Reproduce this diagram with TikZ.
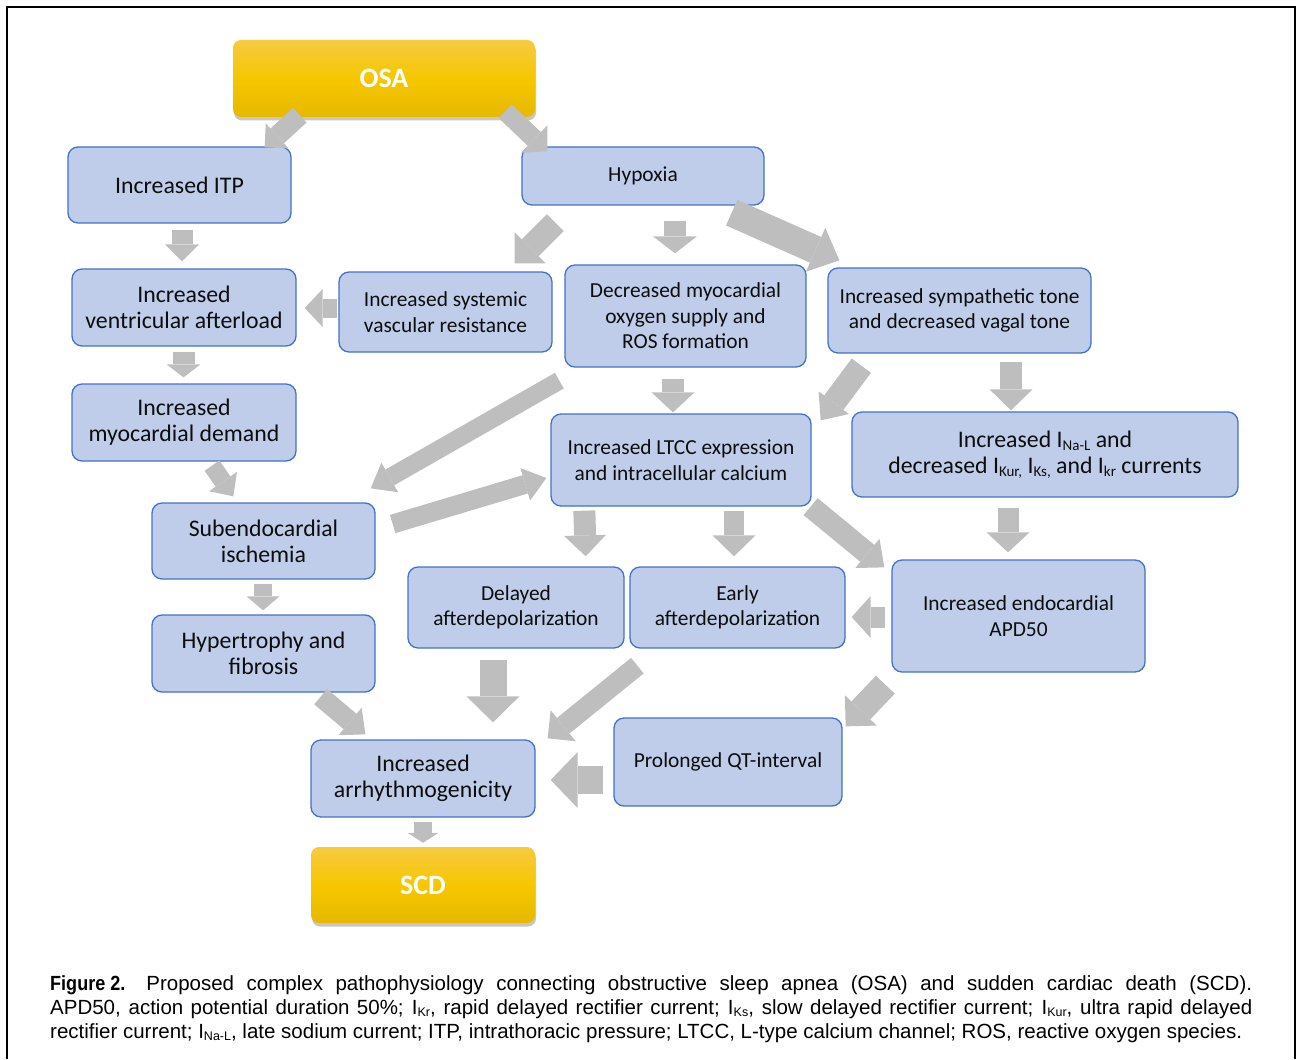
\documentclass[tikz,border=0pt]{standalone}
\usepackage{graphicx}
\usepackage{fontspec}
\setmainfont{Carlito}
\newfontfamily\capfont{Liberation Sans}
\usetikzlibrary{arrows.meta,shadows}

\definecolor{boxblue}{RGB}{191,205,234}
\definecolor{boxline}{RGB}{68,114,196}
\definecolor{arrowgray}{RGB}{190,190,190}
\definecolor{textdark}{RGB}{13,13,13}
\definecolor{goldtop}{RGB}{246,202,66}
\definecolor{goldmid}{RGB}{246,199,0}
\definecolor{goldbot}{RGB}{230,184,0}

% small lowered index, as in I_Kr
\newcommand{\isub}[1]{\raisebox{-0.15em}{\fontsize{15}{15}\selectfont #1}}
\newcommand{\csub}[1]{\raisebox{-0.1em}{\fontsize{12.5}{12.5}\selectfont #1}}

\tikzset{
  box/.style={draw=boxline, line width=1.3pt, fill=boxblue, rounded corners=10pt,
    align=center, text=textdark, inner sep=2pt},
  big/.style={font=\fontsize{23.8}{26}\selectfont},
  small/.style={font=\fontsize{21.4}{25.5}\selectfont},
  sz/.style 2 args={minimum width=#1pt, minimum height=#2pt},
  goldbox/.style={rounded corners=8pt,
    drop shadow={shadow xshift=1pt, shadow yshift=-3.5pt, fill=black, opacity=0.22},
    top color=goldtop, bottom color=goldbot, middle color=goldmid,
    text=white, font=\bfseries\fontsize{28}{30}\selectfont},
  blk/.style args={#1/#2/#3}{draw=arrowgray, line width=#1pt,
    -{Triangle[width=#2pt, length=#3pt, line width=0pt]}}
}

\begin{document}
\begin{tikzpicture}[x=1pt, y=-1pt]
\useasboundingbox (0,0) rectangle (1297,1059);

% frame
                \draw [line width=2.4pt] (7,1059) -- (7,7) -- (1295,7) -- (1295,1059);
                %
                % top and bottom
                \node at (384,78.5) (osa) [goldbox, sz={302}{77}] {OSA};
                \node at (423,885) (scd) [goldbox, sz={224}{76}] {SCD};
                %
                % left column
                \node at (179.5,185) (itp) [box, big, sz={223}{76}] {Increased ITP};
                \node at (184,307.5) (aft) [box, big, sz={224}{77}] {Increased\\ventricular afterload};
                \node at (184,422.5) (dem) [box, big, sz={224}{77}] {Increased\\myocardial demand};
                \node at (263.5,541) (sub) [box, big, sz={223}{76}] {Subendocardial\\ischemia};
                \node at (263.5,653.5) (hyf) [box, big, sz={223}{77}] {Hypertrophy and\\fibrosis};
                \node at (423,778.5) (arr) [box, big, sz={224}{77}] {Increased\\arrhythmogenicity};
                %
                % hypoxia branch
                \node at (643,176) (hyp) [box, small, sz={242}{58}] {Hypoxia};
                \node at (445.5,312) (svr) [box, small, sz={213}{80}] {Increased systemic\\vascular resistance};
                \node at (685.5,316) (dmo) [box, small, sz={241}{102}] {Decreased myocardial\\oxygen supply and\\ROS formation};
                \node at (959.5,310.5) (sym) [box, small, sz={263}{85}] {Increased sympathetic tone\\and decreased vagal tone};
                \node at (681,460) (ltcc) [box, small, sz={260}{92}] {Increased LTCC expression\\and intracellular calcium};
                \node at (1045,454.5) (cur) [box, big, sz={386}{85}] {Increased I\isub{Na-L} and\\decreased I\isub{Kur,} I\isub{Ks,} and I\isub{kr} currents};
                \node at (516,607.5) (dad) [box, small, sz={216}{81}] {Delayed\\afterdepolarization};
                \node at (737.5,607.5) (ead) [box, small, sz={215}{81}] {Early\\afterdepolarization};
                \node at (1018.5,616) (apd) [box, small, sz={253}{112}] {Increased endocardial\\APD50};
                \node at (728,762) (qt) [box, small, sz={228}{88}] {Prolonged QT-interval};
                %
                % arrows from OSA
                \draw [blk=20/34/17] ([shift={(67,-2)}]osa.south west) -- ([shift={(-27,1)}]itp.north east);
                \draw [blk=19/38/18] ([shift={(-30,-6)}]osa.south east) -- ([shift={(26,5)}]hyp.north west);
                %
                % left chain
                \draw [blk=21/34/17] ([shift={(2.5,6)}]itp.south) -- ([shift={(-2,-7)}]aft.north);
                \draw [blk=22/34/13] ([shift={(-0.5,5)}]aft.south) -- ([shift={(-0.5,-6)}]dem.north);
                \draw [blk=18/34/18] ([shift={(28,4)}]dem.south) -- ([shift={(82,-6)}]sub.north west);
                \draw [blk=18/33/14] ([shift={(-0.5,4)}]sub.south) -- ([shift={(-0.5,-4)}]hyf.north);
                \draw [blk=20/36/20] ([shift={(-55,4)}]hyf.south east) -- ([shift={(55,-5)}]arr.north west);
                \draw [blk=18/31/10] ([shift={(0,4)}]arr.south) -- ([shift={(0,-4)}]scd.north);
                %
                % from hypoxia
                \draw [blk=24/44/22] ([shift={(34,17)}]hyp.south west) -- ([shift={(-38,-8)}]svr.north east);
                \draw [blk=22/44/17] ([shift={(32,15)}]hyp.south) -- ([shift={(-10.5,-11)}]dmo.north);
                \draw [blk=28/48/26] ([shift={(-33,7)}]hyp.south east) -- ([shift={(12,-7)}]sym.north west);
                \draw [blk=19/38/18] ([shift={(-1,-4)}]svr.west) -- ([shift={(8,0.5)}]aft.east);
                %
                % middle row
                \draw [blk=22/43/20] ([shift={(-12.5,11)}]dmo.south) -- ([shift={(-8,-1)}]ltcc.north);
                \draw [blk=18/34/22] ([shift={(-5,13)}]dmo.south west) -- ([shift={(-5,-14)}]sub.north east);
                \draw [blk=24/38/22] ([shift={(34,12)}]sym.south west) -- ([shift={(9,7)}]ltcc.north east);
                \draw [blk=22/43/21] ([shift={(51.5,8)}]sym.south) -- ([shift={(-34,-1)}]cur.north);
                \draw [blk=19/34/22] ([shift={(17,-17)}]sub.east) -- ([shift={(-4,18)}]ltcc.west);
                %
                % from LTCC and currents
                \draw [blk=22/42/21] ([shift={(34,4)}]ltcc.south west) -- ([shift={(-39,-10)}]dad.north east);
                \draw [blk=20/43/21] ([shift={(53,4)}]ltcc.south) -- ([shift={(-3.5,-10)}]ead.north);
                \draw [blk=22/38/22] ([shift={(-1,0)}]ltcc.south east) -- ([shift={(-7,8)}]apd.north west);
                \draw [blk=21/43/20] ([shift={(-37,10)}]cur.south) -- ([shift={(-10.5,-7)}]apd.north);
                \draw [blk=21/42/19] ([shift={(-6,1)}]apd.west) -- ([shift={(6,9.5)}]ead.east);
                %
                % into arrhythmogenicity
                \draw [blk=27/53/26] ([shift={(-23,11)}]dad.south) -- ([shift={(70,-17)}]arr.north);
                \draw [blk=20/40/20] ([shift={(8,17)}]ead.south west) -- ([shift={(12,-1)}]arr.north east);
                \draw [blk=26/44/22] ([shift={(-6,12)}]apd.south west) -- ([shift={(3,9)}]qt.north east);
                \draw [blk=28/56/27] ([shift={(-10,18)}]qt.west) -- ([shift={(15,1.5)}]arr.east);
                %
                % caption
                \node at (50,975) (cap) [anchor=north west, text width=1202pt, align=justify, inner sep=0pt,
                  font=\capfont\fontsize{20.5}{24}\selectfont] {\parfillskip=0pt
                  \textbf{\scalebox{0.88}[1]{Figure 2.}}\hspace*{21pt}Proposed complex pathophysiology connecting obstructive sleep apnea (OSA) and sudden cardiac death (SCD).\linebreak
                  APD50, action potential duration 50\%; I\csub{Kr}, rapid delayed rectifier current; I\csub{Ks}, slow delayed rectifier current; I\csub{Kur}, ultra rapid delayed\linebreak
                  rectifier current; I\csub{Na-L}, late sodium current; ITP, intrathoracic pressure; LTCC, L-type calcium channel; ROS, reactive oxygen species.};
\end{tikzpicture}
\end{document}
